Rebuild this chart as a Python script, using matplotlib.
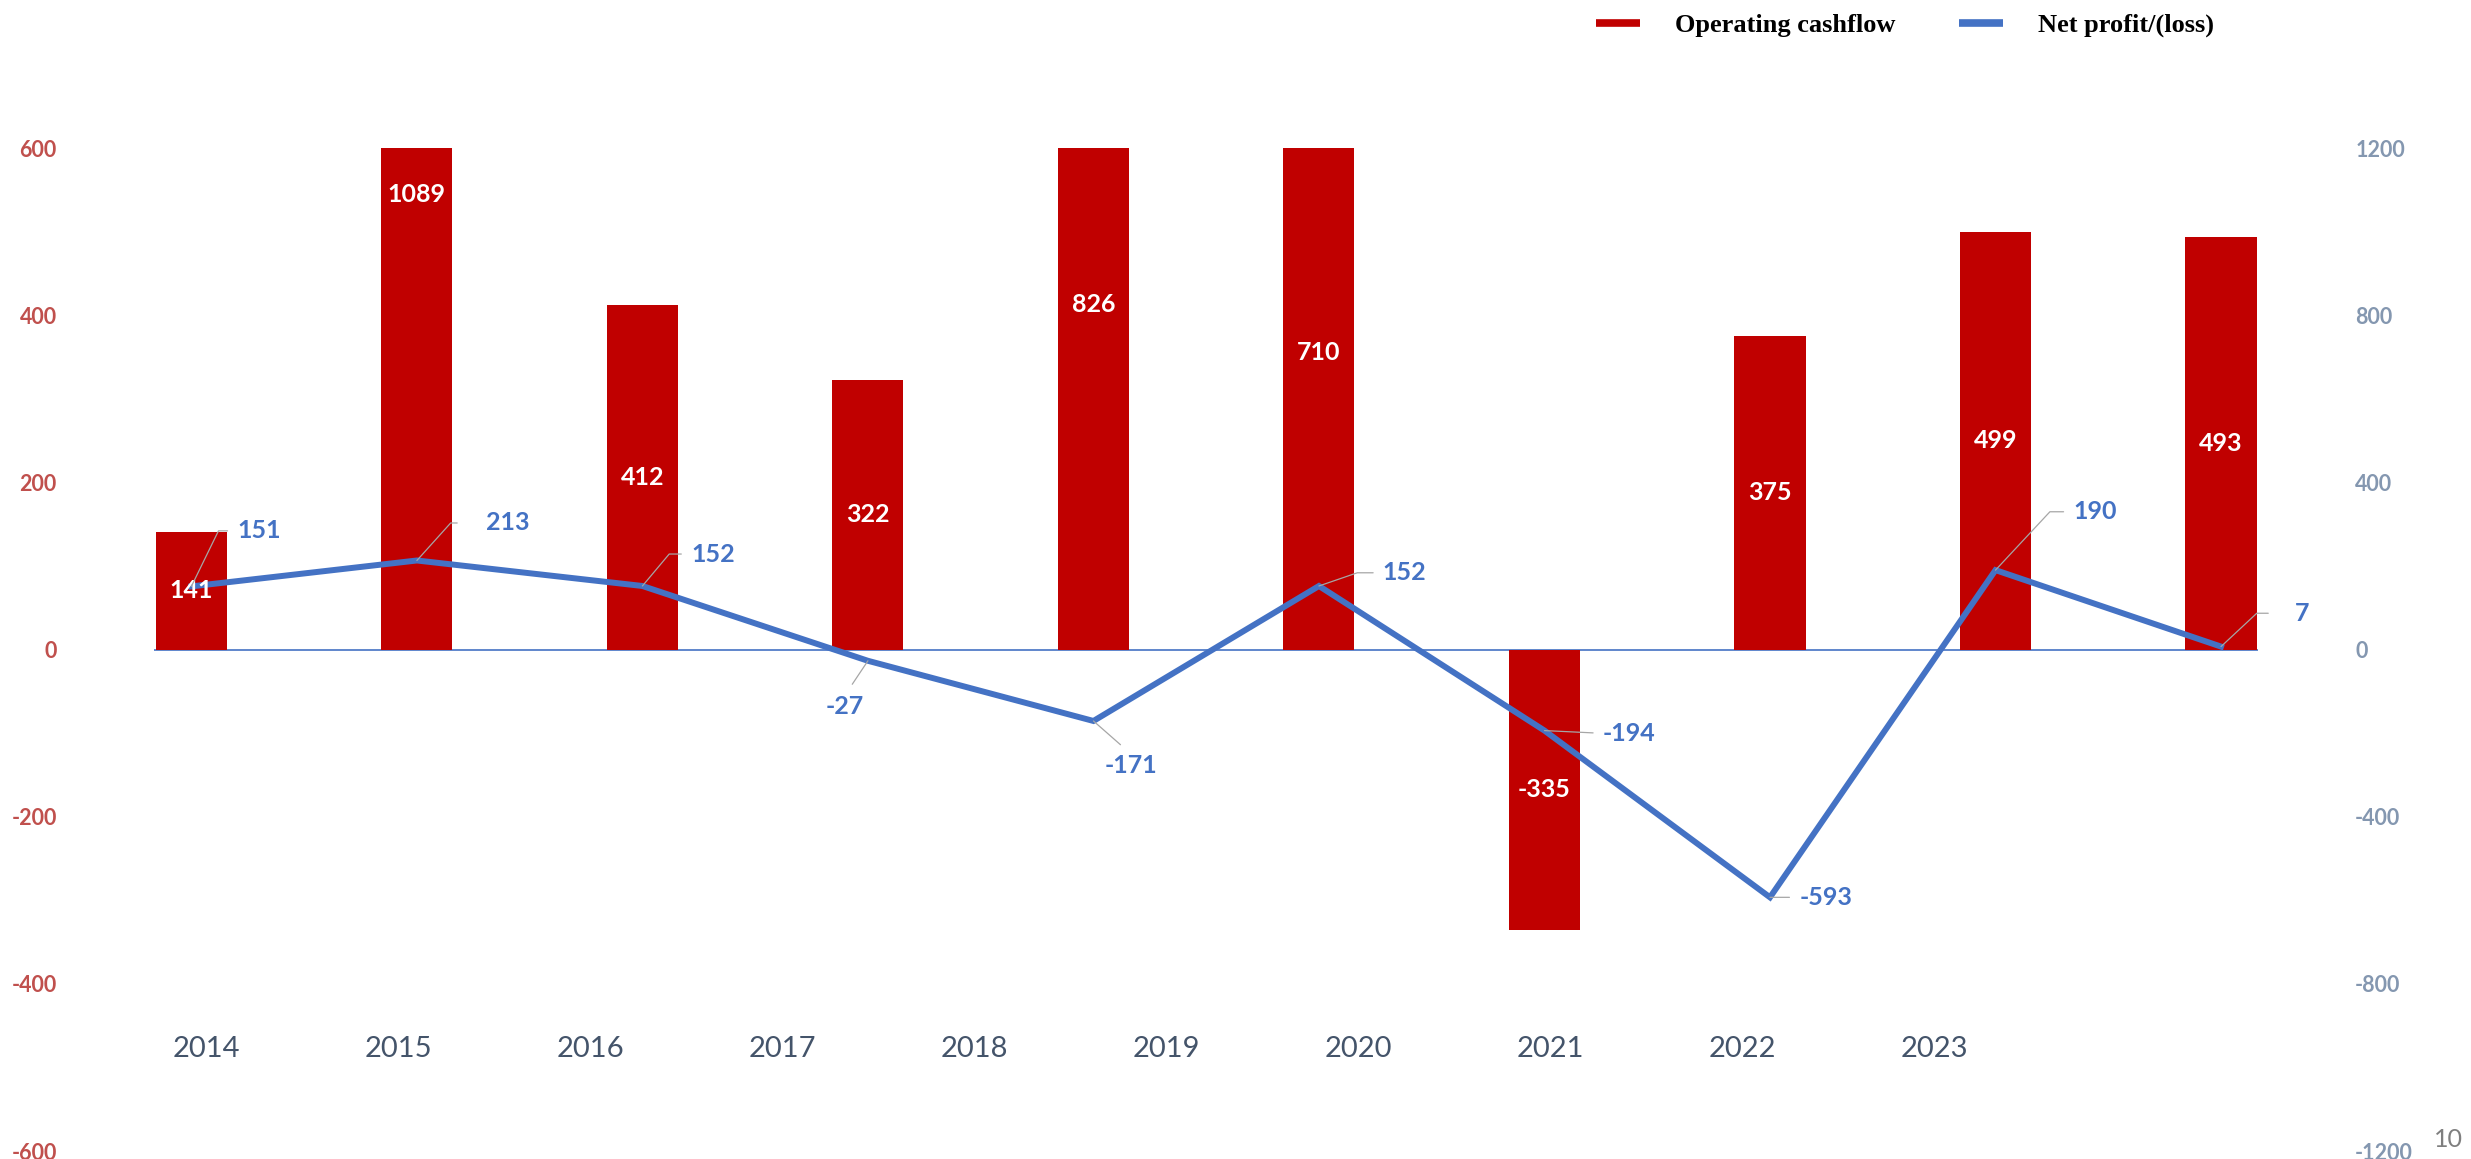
import matplotlib
matplotlib.use("Agg")
import matplotlib.pyplot as plt
from matplotlib.lines import Line2D

plt.rcParams['font.family'] = ['Lato', 'DejaVu Sans']

# data
years = ['2014', '2015', '2016', '2017', '2018', '2019', '2020', '2021', '2022', '2023']
cashflow = [141, 1089, 412, 322, 826, 710, -335, 375, 499, 493]
net_profit = [151, 213, 152, -27, -171, 152, -194, -593, 190, 7]
left_ticks = [-600, -400, -200, 0, 200, 400, 600]
right_ticks = [-1200, -800, -400, 0, 400, 800, 1200]

RED = '#C00000'
BLUE = '#4472C4'

# label layout for the net profit values: (dx, dy, ha, leader angle or None, gap)
label_layout = [
    (33, 40, 'left', 64, 5),
    (50, 27, 'left', 48, 19),
    (35, 23, 'left', 50, 5),
    (-16.5, -33, 'center', None, 7),
    (27, -32, 'center', None, 7),
    (46, 9.5, 'left', 19, 5),
    (42, -2, 'left', None, 5),
    (21, 0, 'left', None, 5),
    (56, 42, 'left', 47, 5),
    (53, 24, 'left', 43, 17),
]

fig = plt.figure(figsize=(24.71, 11.59), dpi=100)
ax = fig.add_axes([0.0623, 0.0069, 0.8515, 0.8654])
ax2 = ax.twinx()

x = list(range(len(cashflow)))

ax.bar(x, cashflow, width=0.315, color=RED, zorder=2)
ax.axhline(0, color=BLUE, lw=1.2, zorder=1)
ax.set_xlim(-0.166, 9.164)
ax.set_ylim(-600, 600)
ax.set_yticks(left_ticks)
ax.set_yticklabels([str(t) for t in left_ticks])
ax.tick_params(axis='y', length=0, pad=70, labelsize=15.5, labelcolor='#C0504D')
for lab in ax.get_yticklabels():
    lab.set_fontweight('bold')
ax.set_xticks([])

ax2.plot(x, net_profit, color=BLUE, lw=4.3, solid_joinstyle='miter', zorder=3)
ax2.set_ylim(-1200, 1200)
ax2.set_yticks(right_ticks)
ax2.set_yticklabels([str(t) for t in right_ticks])
ax2.tick_params(axis='y', length=0, pad=70, labelsize=15.5, labelcolor='#8497B0')
for lab in ax2.get_yticklabels():
    lab.set_fontweight('bold')

for a in (ax, ax2):
    for s in a.spines.values():
        s.set_visible(False)

# bar value labels (centre of the real bar, even where clipped)
for xi, v in zip(x, cashflow):
    ax2.text(xi, v / 2, str(v), transform=ax.transData, ha='center', va='center',
             color='white', fontsize=18, fontweight='bold', zorder=5)

# net profit labels with leader lines
for xi, v, (dx, dy, ha, ang, gap) in zip(x, net_profit, label_layout):
    if ang is None:
        conn = 'arc3,rad=0'
    else:
        conn = 'angle,angleA=0,angleB=%s,rad=0' % ang
    relpos = (0.5, 1) if ha == 'center' else (0, 0.5)
    ax2.annotate(str(v), xy=(xi, v), xytext=(dx, dy), textcoords='offset points',
                 ha=ha, va='center', color=BLUE, fontsize=18, fontweight='bold',
                 zorder=6,
                 arrowprops=dict(arrowstyle='-', color='#A6A6A6', lw=0.9,
                                 connectionstyle=conn, relpos=relpos,
                                 shrinkA=gap, shrinkB=0))

# year labels (sit on their own spacing, not under the bars)
for i, yr in enumerate(years):
    ax.text(0.0247 + i * 0.0913, 0.1017, yr, transform=ax.transAxes,
            ha='center', va='center', fontsize=21, color='#44546A')

# legend
handles = [Line2D([], [], color=RED, lw=5.5, solid_capstyle='butt'),
           Line2D([], [], color=BLUE, lw=5.5, solid_capstyle='butt')]
fig.legend(handles, ['Operating cashflow', 'Net profit/(loss)'],
           loc='center left', bbox_to_anchor=(0.646, 0.978), ncol=2,
           frameon=False, borderpad=0, borderaxespad=0,
           handlelength=1.67, handletextpad=1.33, columnspacing=2.39,
           prop={'family': 'Liberation Serif', 'weight': 'bold', 'size': 19})

fig.text(0.9907, 0.0164, '10', ha='center', va='center', fontsize=18, color='#7F7F7F')

fig.savefig('out.png', dpi=100)
